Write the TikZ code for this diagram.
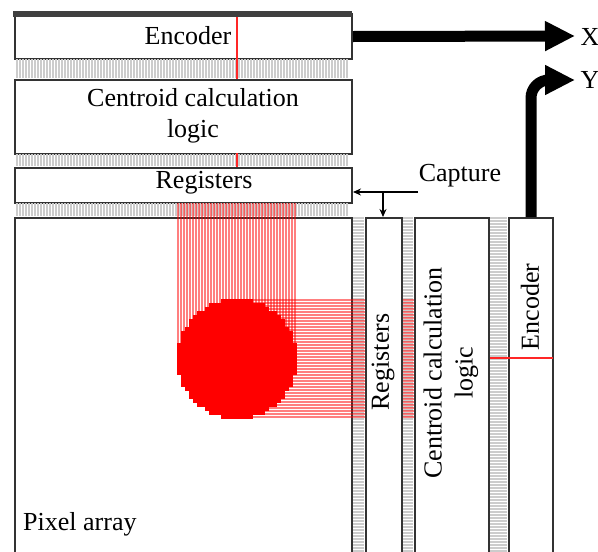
\documentclass[tikz,border=0pt]{standalone}
\usepackage{fontspec}
\setmainfont{Liberation Serif}
\usetikzlibrary{arrows.meta}
\begin{document}
\begin{tikzpicture}[x=1pt,y=-1pt,
  box/.style={draw=black!80, line width=2pt, fill=white, inner sep=0pt, anchor=north west},
  lbl/.style={font=\fontsize{26}{31}\selectfont, inner sep=0pt, align=center},
  hatch/.style={draw=gray!40, line width=1.1pt},
  sig/.style={draw=red, draw opacity=0.5, line width=1.1pt},
  redmark/.style={draw=red!85, line width=1.4pt},
  bus/.style={line width=11pt, -{Triangle[length=30pt,width=28pt]}},
  ctl/.style={line width=1.6pt, -{Stealth[length=8pt,width=7pt]}}
]
\clip (0,0) rectangle (598,552);
\fill[white] (0,0) rectangle (598,552);

% row-side blocks and the pixel array
\node[box, minimum width=337pt, minimum height=345pt] (pix)  at (14,217) {};
\node[box, minimum width=337pt, minimum height=45pt]  (encT) at (14,13)  {};
\node[box, minimum width=337pt, minimum height=74pt]  (cclT) at (14,79)  {};
\node[box, minimum width=337pt, minimum height=35pt]  (regT) at (14,167) {};
\fill[black!75] (13,11) rectangle (352,17);

% bus wiring between the row-side blocks
\foreach \x in {17,20,...,348} {
  \draw[hatch] (\x,59) -- (\x,78);
  \draw[hatch] (\x,154) -- (\x,166);
  \draw[hatch] (\x,203) -- (\x,216);
}
% bus wiring between the column-side blocks
\foreach \y in {218,221,...,552} {
  \draw[hatch] (353,\y) -- (364,\y);
  \draw[hatch] (403,\y) -- (413,\y);
  \draw[hatch] (490,\y) -- (507,\y);
}

% active column and row lines
\foreach \x in {178,181,...,296} { \draw[sig] (\x,203) -- (\x,359); }
\foreach \y in {300,303,...,418} { \draw[sig] (237,\y) -- (414,\y); }

% the spot on the pixel array, drawn pixel row by pixel row
\foreach \k in {0,...,29} {
  \pgfmathsetmacro\yy{299+4*\k}
  \pgfmathsetmacro\dd{\yy+2-359}
  \pgfmathsetmacro\hw{4*round(sqrt(max(0,3600-(\dd)*(\dd)))/4)}
  \fill[red] (237-\hw,\yy) rectangle (237+\hw,\yy+4.4);
}

% column-side blocks
\node[box, minimum width=36pt, minimum height=345pt] (regR) at (365,217) {};
\node[box, minimum width=74pt, minimum height=345pt] (cclR) at (414,217) {};
\node[box, minimum width=44pt, minimum height=345pt] (encR) at (508,217) {};

% centroid markers through the encoders
\draw[redmark] (237,17) -- (237,79);
\draw[redmark] (237,153) -- (237,167);
\draw[redmark] (490,358) -- (553,358);

% labels
\node[lbl] (encTt) at (188,36) {Encoder};
\node[lbl] (cclTt) at (193,116) {Centroid calculation\\logic};
\node[lbl] (regTt) at (204,183) {Registers};
\node[lbl, anchor=west] (pixt) at (23,524) {Pixel array};
\node[lbl, rotate=90] (regRt) at (383,362) {Registers};
\node[lbl, rotate=90] (cclRt) at (451,373) {Centroid calculation\\logic};
\node[lbl, rotate=90] (encRt) at (530,307) {Encoder};
\node[lbl] (cap) at (460,176) {Capture};

% outputs
\coordinate (xend) at (575,36);
\coordinate (yend) at (575,80);
\draw[bus] (encT.east) -- (xend);
\draw[bus, rounded corners=18pt] (encR.north) |- (yend);
\node[lbl] (xl) at (590,37) {X};
\node[lbl] (yl) at (590,80) {Y};

% capture strobe
\coordinate (capstart) at (418,192);
\coordinate (capsplit) at (383,192);
\draw[ctl] (capstart) -- (regT.east |- capstart);
\draw[ctl] (capsplit) -- (capsplit |- regR.north);
\end{tikzpicture}
\end{document}
